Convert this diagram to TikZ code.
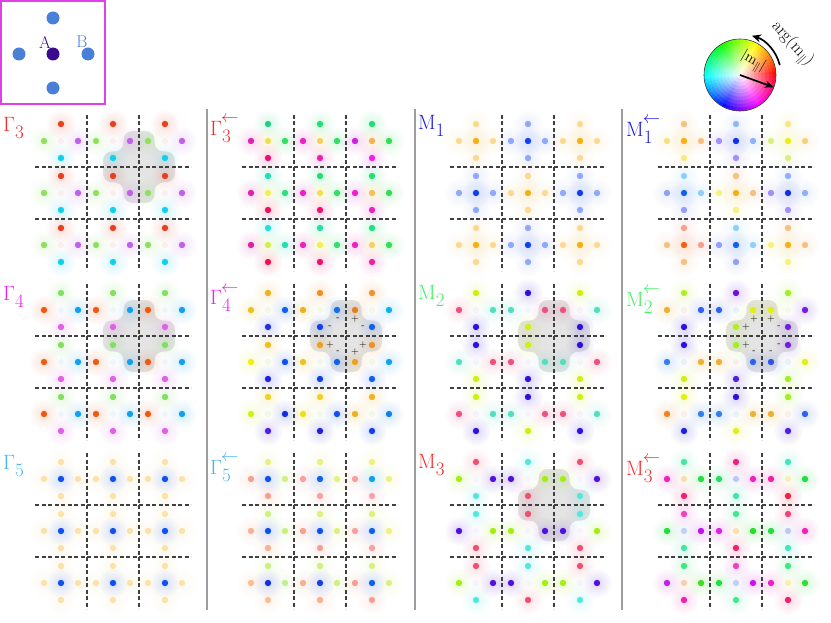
\documentclass[tikz,border=0pt]{standalone}
\usetikzlibrary{arrows.meta,fadings}
\tikzfading[name=glowfade, inner color=transparent!0, outer color=transparent!100]
\newcommand\glowdot[3]{\definecolor{tmpc}{HTML}{#3}\fill[tmpc,fill opacity=0.17,path fading=glowfade] (#1,#2) circle[radius=15];}
\newcommand\soliddot[3]{\definecolor{tmpc}{HTML}{#3}\fill[tmpc] (#1,#2) circle[radius=3.2];}
\let\dodot\soliddot
\newcommand\C[7]{\pgfmathsetmacro\cx{\pX+26+52*#1}\pgfmathsetmacro\cy{\pY+26+52*#2}%
 \dodot{\cx}{\cy-17}{#3}\dodot{\cx-17}{\cy}{#4}\dodot{\cx}{\cy}{#5}\dodot{\cx+17}{\cy}{#6}\dodot{\cx}{\cy+17}{#7}}
\newcommand\uni[5]{\foreach \i in {0,1,2}{\foreach \j in {0,1,2}{\C{\i}{\j}{#1}{#2}{#3}{#4}{#5}}}}
\newcommand\chk{\CA{0}{0}\CB{1}{0}\CA{2}{0}\CB{0}{1}\CA{1}{1}\CB{2}{1}\CA{0}{2}\CB{1}{2}\CA{2}{2}}
% ---- panel data ----
\newcommand\PGthree{\def\pX{35}\def\pY{115}\uni{E8401E}{90E060}{FAEFEF}{C060E8}{10D0F0}}
\newcommand\PGfour{\def\pX{35}\def\pY{284}\uni{80E060}{F05A10}{EFF6FA}{10A0F0}{E060E8}}
\newcommand\PGfive{\def\pX{35}\def\pY{453}\uni{FCE2A8}{FCE2A8}{1050F0}{FCE2A8}{FCE2A8}}
\newcommand\PGthreeA{\def\pX{242}\def\pY{115}%
\C00{20D080}{E020B0}{F0E050}{30E060}{F01070}\C10{20E070}{F020C0}{F8D060}{30E060}{F020B0}\C20{20E070}{D020E0}{F8B050}{30E050}{F020F0}%
\C01{20E0B0}{E020B0}{F0F050}{30E080}{F01060}\C11{20E070}{F020C0}{F0E050}{30E060}{F01070}\C21{20E070}{F020D0}{F8C050}{30E050}{F020C0}%
\C02{20E0E0}{E020A0}{D0F050}{20E0B0}{F01050}\C12{20E0A0}{F020B0}{F0F050}{30E070}{F01070}\C22{20E080}{F020C0}{F8D060}{30E050}{F020A0}}
\newcommand\PGfourA{\def\pX{242}\def\pY{284}%
\C00{F0B020}{F0C020}{F2F8E6}{1060F0}{2030E0}\C10{F09020}{F0B020}{F2F8E6}{1070F0}{1040F0}\C20{F09030}{E08020}{F2F8E6}{10B0F0}{1060F0}%
\C01{F0C020}{F0F010}{F2F8E6}{1050F0}{2020E0}\C11{F0A020}{F0C020}{F2F8E6}{1060F0}{1040E0}\C21{F09020}{F0A020}{F2F8E6}{10A0F0}{1060F0}%
\C02{F0D020}{D0F010}{F2F8E6}{1030E0}{5020E0}\C12{F0D020}{F0E010}{F2F8E6}{1050F0}{2020E0}\C22{F0B020}{F0B020}{F2F8E6}{1080F0}{1040F0}}
\newcommand\PGfiveA{\def\pX{242}\def\pY{453}%
\C00{E8F080}{F8A090}{1050F0}{D0F080}{F8A090}\C10{E8F080}{F8A0A0}{1060F0}{E8F080}{F8A0A0}\C20{F0F080}{F8A0A0}{10A0F0}{F0F080}{F8A0B0}%
\C01{D0F080}{F8B090}{1050F0}{C8F080}{F8B090}\C11{E0F080}{F8A090}{1050F0}{E0F080}{F8A090}\C21{E0F080}{F8A0A0}{1060F0}{F0F080}{F8A0A0}%
\C02{C8F080}{F8C090}{1030E0}{C0F090}{F8C090}\C12{D0F080}{F8B090}{1040F0}{D0F080}{F8B090}\C22{D8F080}{F8A090}{1060F0}{E0F080}{F8A090}}
\newcommand\PMone{\def\pX{450}\def\pY{115}%
\def\CA##1##2{\C{##1}{##2}{FCD890}{FCD890}{F8B010}{FCD890}{FCD890}}%
\def\CB##1##2{\C{##1}{##2}{90A8F8}{90A8F8}{1040F0}{90A8F8}{90A8F8}}\chk}
\newcommand\PMtwo{\def\pX{450}\def\pY{284}%
\def\CA##1##2{\C{##1}{##2}{D0F010}{F05080}{F5F3FA}{50E0C0}{3010E0}}%
\def\CB##1##2{\C{##1}{##2}{3010E0}{50E0C0}{F5F3FA}{F05080}{D0F010}}\chk}
\newcommand\PMthree{\def\pX{450}\def\pY{453}%
\def\CA##1##2{\C{##1}{##2}{F05070}{A0F010}{F5F5FA}{5010E0}{50E8E0}}%
\def\CB##1##2{\C{##1}{##2}{50E8E0}{5010E0}{F5F5FA}{A0F010}{F05070}}\chk}
\newcommand\PMoneA{\def\pX{658}\def\pY{115}%
\C00{F8C080}{F8E080}{F8B010}{F8C080}{F8E880}\C10{90B8F8}{A090F8}{1030F0}{90B0F8}{A090F8}\C20{F8E880}{D8F080}{E8F010}{F8D080}{D8F080}%
\C01{90D0F8}{90A0F8}{1060F0}{90D0F8}{90A0F8}\C11{F8C080}{F8F080}{F8B010}{F8C080}{F8F080}\C21{90B0F8}{A090F8}{1030E0}{90B0F8}{A090F8}%
\C02{F8A090}{F8C080}{F86010}{F8A090}{F8C080}\C12{90D0F8}{90A0F8}{1060F0}{90D0F8}{90A0F8}\C22{F8C080}{F8F080}{F8B010}{F8C080}{F8F080}}
\newcommand\PMtwoA{\def\pX{658}\def\pY{284}%
\C00{B0F020}{F0B030}{F8F0E8}{3060F0}{3010E0}\C10{7010E0}{3060F0}{E8F0F8}{E0F010}{B0F020}\C20{A0F020}{E0F010}{F8F8E8}{7020E0}{7020E0}%
\C01{3010E0}{3080F0}{E8F0F8}{F0B030}{D0F010}\C11{A0F020}{F0B030}{F8F0E8}{3060F0}{5020E0}\C21{7020E0}{3050F0}{E8F0F8}{E0F010}{A0F020}%
\C02{E0F010}{F08020}{F8F0E8}{3080F0}{2020E0}\C12{3010E0}{3080F0}{E8F0F8}{F0B030}{E0F010}\C22{A0F020}{F0B030}{F8F0E8}{3060F0}{5020E0}}
\newcommand\PMthreeA{\def\pX{658}\def\pY{453}%
\C00{40E8A0}{F020C0}{F8E0B0}{20E040}{F02070}\C10{F02080}{20E060}{C0C8F8}{F020C0}{40E8B0}\C20{40E8C0}{F020A0}{F8F0B0}{20E040}{F02040}%
\C01{F040C0}{20E040}{C0D0F8}{C010F0}{40E8A0}\C11{40E890}{E020E0}{F8E0B0}{20E020}{F02070}\C21{F04080}{20E040}{C0C8F8}{F020C0}{40E8C0}%
\C02{40E880}{C020E0}{F8D0B0}{40E020}{F020B0}\C12{F040C0}{20E040}{C0D0F8}{D010F0}{40E890}\C22{40E880}{F020C0}{F8F0B0}{30E030}{F02070}}
\newcommand\allpanels{\PGthree\PGfour\PGfive\PGthreeA\PGfourA\PGfiveA\PMone\PMtwo\PMthree\PMoneA\PMtwoA\PMthreeA}
% plus-shaped highlight
\newcommand\plusat[2]{\fill[plusfill, rounded corners=9pt] (#1-15.5,#2-36) -- (#1+15.5,#2-36) -- (#1+15.5,#2-15.5) -- (#1+36,#2-15.5) -- (#1+36,#2+15.5) -- (#1+15.5,#2+15.5) -- (#1+15.5,#2+36) -- (#1-15.5,#2+36) -- (#1-15.5,#2+15.5) -- (#1-36,#2+15.5) -- (#1-36,#2-15.5) -- (#1-15.5,#2-15.5) -- cycle;}
\newcommand\grid[2]{\draw[dashline] (#1+52,#2) -- (#1+52,#2+156); \draw[dashline] (#1+104,#2) -- (#1+104,#2+156);
 \draw[dashline] (#1,#2+52) -- (#1+156,#2+52); \draw[dashline] (#1,#2+104) -- (#1+156,#2+104);}
\newcommand\signs[4]{% #1 name, #2 cx, #3 cy, #4 list of 8 signs
 \foreach \s [count=\n] in {#4}{%
  \ifcase\n\or\def\dx{-8}\def\dy{-17}\or\def\dx{9}\def\dy{-17}\or\def\dx{-16}\def\dy{-9}\or\def\dx{17}\def\dy{-9}%
  \or\def\dx{-16}\def\dy{9}\or\def\dx{17}\def\dy{9}\or\def\dx{-8}\def\dy{16}\or\def\dx{9}\def\dy{16}\fi
  \node[sign] (#1\n) at (#2+\dx,#3+\dy) {\s};}}
\newcommand\Lab[2]{$#1$\raisebox{-7pt}{\fontsize{19}{19}\selectfont #2}}
\newcommand\LabA[2]{$#1$\raisebox{-7pt}{\fontsize{19}{19}\selectfont\rlap{\hspace{-1pt}\raisebox{20pt}{$\leftarrow$}}#2}}
\definecolor{labred}{HTML}{F42A2A}
\definecolor{labmag}{HTML}{F020F0}
\definecolor{labsky}{HTML}{48B2F2}
\definecolor{labblue}{HTML}{1818E0}
\definecolor{labgreen}{HTML}{44F064}
\definecolor{insetmag}{HTML}{E040E8}
\definecolor{bdot}{HTML}{4A7FD8}
\definecolor{adot}{HTML}{3A0A90}
\begin{document}
\begin{tikzpicture}[x=1pt,y=-1pt,
  dashline/.style={draw=black!75, line width=1.1pt, dash pattern=on 4pt off 2.5pt},
  sepline/.style={draw=black!38, line width=1.1pt},
  plusfill/.style={fill=black!50, fill opacity=0.21},
  sign/.style={font=\fontsize{10}{10}\selectfont, inner sep=0pt, text=black},
  lab/.style={anchor=base west, inner sep=0pt, font=\fontsize{22}{22}\selectfont}]
\fill[white] (0,0) rectangle (831,623);
\useasboundingbox (0,0) rectangle (831,623);
% glows
\let\dodot\glowdot \allpanels
% highlights
\plusat{139}{167}\plusat{139}{336}\plusat{346}{336}\plusat{554}{336}\plusat{762}{336}\plusat{554}{505}
% dashed grids
\foreach \gx in {35,242,450,658}{\foreach \gy in {115,284,453}{\grid{\gx}{\gy}}}
% dots
\let\dodot\soliddot \allpanels
% signs
\signs{ga}{346}{336}{-,+,-,-,+,+,-,+}
\signs{mb}{762}{336}{+,+,+,-,+,-,-,-}
% separators
\draw[sepline] (207,109) -- (207,610);
\draw[sepline] (415,109) -- (415,610);
\draw[sepline] (622,109) -- (622,610);
% labels
\node[lab, text=labred] (l1) at (3,132) {\Lab{\Gamma}{3}};
\node[lab, text=labmag] (l2) at (3,300) {\Lab{\Gamma}{4}};
\node[lab, text=labsky] (l3) at (3,469) {\Lab{\Gamma}{5}};
\node[lab, text=labred] (l4) at (210,136) {\LabA{\Gamma}{3}};
\node[lab, text=labmag] (l5) at (210,305) {\LabA{\Gamma}{4}};
\node[lab, text=labsky] (l6) at (210,474) {\LabA{\Gamma}{5}};
\node[lab, text=labblue] (l7) at (418,130) {\Lab{\mathrm{M}}{1}};
\node[lab, text=labgreen] (l8) at (418,299) {\Lab{\mathrm{M}}{2}};
\node[lab, text=labred] (l9) at (418,468) {\Lab{\mathrm{M}}{3}};
\node[lab, text=labblue] (l10) at (626,137) {\LabA{\mathrm{M}}{1}};
\node[lab, text=labgreen] (l11) at (626,306) {\LabA{\mathrm{M}}{2}};
\node[lab, text=labred] (l12) at (626,475) {\LabA{\mathrm{M}}{3}};
% inset
\draw[insetmag, line width=1.8pt] (1,1) rectangle (105,104);
\fill[bdot] (53,18) circle[radius=6.5];
\fill[bdot] (19,54) circle[radius=6.5];
\fill[bdot] (88,54) circle[radius=6.5];
\fill[bdot] (53,88) circle[radius=6.5];
\fill[adot] (53,54) circle[radius=6.5];
\node[text=adot, font=\fontsize{17}{17}\selectfont, inner sep=0pt] (labA) at (45,42) {A};
\node[text=bdot, font=\fontsize{17}{17}\selectfont, inner sep=0pt] (labB) at (82,42) {B};
% colour wheel
\begin{scope}[shift={(740,75)}, yscale=-1]
 \foreach \k in {10,9,...,1}{\foreach \h in {0,6,...,354}{%
   \pgfmathsetmacro\hh{\h/360}\pgfmathsetmacro\ss{(\k-0.5)/10}%
   \definecolor{wc}{hsb}{\hh,\ss,1}%
   \fill[wc] (0,0) -- (\h:\k*3.6) arc[start angle=\h, end angle=\h+6.6, radius=\k*3.6] -- cycle;}}
 \draw[black!80, line width=0.6pt] (0,0) circle[radius=36];
 \coordinate (wc0) at (0,0);
 \coordinate (wtip) at (-20:36);
 \draw[-{Stealth[length=9pt,width=7pt]}, line width=1.7pt] (wc0) -- (wtip);
 \draw[-{Stealth[length=9pt,width=8pt]}, line width=1.7pt] (14:41) arc[start angle=14, end angle=73, radius=41];
\end{scope}
\node[rotate=-30, font=\fontsize{15}{15}\selectfont, inner sep=0pt] (mlab) at (753,62) {$|\mathrm{m}_{\parallel}|$};
\node[rotate=-48, font=\fontsize{17}{17}\selectfont, inner sep=0pt] (arglab) at (792,44) {$\arg(\mathrm{m}_{\parallel})$};
\end{tikzpicture}
\end{document}
